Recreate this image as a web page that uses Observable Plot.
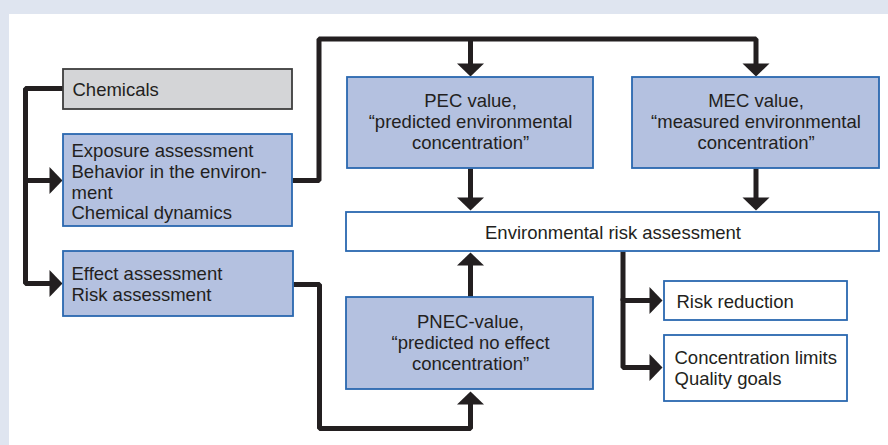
<!DOCTYPE html>
<html>
<head>
<meta charset="utf-8">
<script src="https://cdn.jsdelivr.net/npm/d3@7"></script>
<script src="https://cdn.jsdelivr.net/npm/@observablehq/plot@0.6"></script>
<style>
  html, body { margin: 0; padding: 0; background: #dfe5f0; }
  svg { display: block; }
</style>
</head>
<body>
<script>
// ---- Data: the nodes of the flowchart ----
const nodeIds = ["chemicals", "exposure", "effect", "pec", "mec", "env", "pnec", "reduction", "limits"];
const nodeLabels = [
  "Chemicals",
  "Exposure assessment\nBehavior in the environ-\nment\nChemical dynamics",
  "Effect assessment\nRisk assessment",
  "PEC value,\n“predicted environmental\nconcentration”",
  "MEC value,\n“measured environmental\nconcentration”",
  "Environmental risk assessment",
  "PNEC-value,\n“predicted no effect\nconcentration”",
  "Risk reduction",
  "Concentration limits\nQuality goals"
];
const nodeKinds = ["input", "process", "process", "value", "value", "result", "value", "action", "action"];

// ---- Data: the links (from -> to) ----
const linkFrom = ["chemicals", "chemicals", "exposure", "exposure", "pec", "mec", "pnec", "effect", "env", "env"];
const linkTo   = ["exposure", "effect", "pec", "mec", "env", "env", "env", "pnec", "reduction", "limits"];

// ---- Layout (pixel space of the diagram) ----
const boxLayout = {
  chemicals: {x1: 63, x2: 292, y1: 69, y2: 109, tx: 72, ty: 89, anchor: "start"},
  exposure:  {x1: 63, x2: 292, y1: 134, y2: 226, tx: 71, ty: 181, anchor: "start"},
  effect:    {x1: 63, x2: 293, y1: 251, y2: 316, tx: 71, ty: 283, anchor: "start"},
  pec:       {x1: 347, x2: 593, y1: 77, y2: 168, tx: 470, ty: 121, anchor: "middle"},
  mec:       {x1: 632, x2: 879, y1: 77, y2: 168, tx: 755.5, ty: 121, anchor: "middle"},
  env:       {x1: 346, x2: 879, y1: 212, y2: 251, tx: 612.5, ty: 232, anchor: "middle"},
  pnec:      {x1: 346, x2: 593, y1: 297, y2: 389, tx: 470, ty: 342, anchor: "middle"},
  reduction: {x1: 664, x2: 847, y1: 281, y2: 320, tx: 676, ty: 301, anchor: "start"},
  limits:    {x1: 664, x2: 847, y1: 335, y2: 401, tx: 674, ty: 367, anchor: "start"}
};
// connector paths: [points], arrow tip and direction
const linkLayout = {
  "chemicals-exposure": {pts: [[63, 88], [25, 88], [25, 180], [50, 180]], tip: [62, 180], dir: 90},
  "chemicals-effect":   {pts: [[25, 178], [25, 283], [50, 283]], tip: [62, 283], dir: 90},
  "exposure-pec":       {pts: [[470, 38.5], [470, 64]], tip: [470, 76], dir: 180},
  "exposure-mec":       {pts: [[292, 180], [318.5, 180], [318.5, 38.5], [755.5, 38.5], [755.5, 64]], tip: [755.5, 76], dir: 180},
  "pec-env":            {pts: [[470, 168], [470, 198]], tip: [470, 210], dir: 180},
  "mec-env":            {pts: [[755.5, 168], [755.5, 198]], tip: [755.5, 210], dir: 180},
  "pnec-env":           {pts: [[470, 297], [470, 264]], tip: [470, 252], dir: 0},
  "effect-pnec":        {pts: [[293, 284], [319, 284], [319, 428], [470, 428], [470, 403]], tip: [470, 391], dir: 0},
  "env-reduction":      {pts: [[622.5, 251], [622.5, 300], [650, 300]], tip: [662, 300], dir: 90},
  "env-limits":         {pts: [[622.5, 298], [622.5, 367], [650, 367]], tip: [662, 367], dir: 90}
};
const kindStyle = {
  input:   {fill: "#d4d5d7", stroke: "#3d3d3d"},
  process: {fill: "#b4c1e0", stroke: "#2a68b0"},
  value:   {fill: "#b4c1e0", stroke: "#2a68b0"},
  result:  {fill: "#ffffff", stroke: "#2a68b0"},
  action:  {fill: "#ffffff", stroke: "#2a68b0"}
};

// ---- Build tables ----
const nodes = nodeIds.map((id, i) => ({id, label: nodeLabels[i], kind: nodeKinds[i], ...boxLayout[id]}));
const links = linkFrom.map((f, i) => ({id: f + "-" + linkTo[i], ...linkLayout[f + "-" + linkTo[i]]}));
const linkPoints = links.flatMap(l => l.pts.map(([x, y]) => ({id: l.id, x, y})));
const tips = links.map(l => ({id: l.id, x: l.tip[0], y: l.tip[1], dir: l.dir}));

// custom flat triangular arrowhead; tip at origin, pointing up before rotation
const arrowHead = {
  draw(ctx) {
    ctx.moveTo(0, 0);
    ctx.lineTo(13.5, 13);
    ctx.lineTo(-13.5, 13);
    ctx.closePath();
  }
};

const ink = "#231f20";
const fontFamily = "'Liberation Sans', Arial, Helvetica, sans-serif";

const chart = Plot.plot({
  width: 888,
  height: 445,
  margin: 0,
  x: {domain: [0, 888], range: [0, 888], axis: null},
  y: {domain: [0, 445], range: [0, 445], axis: null},
  style: {background: "#dfe5f0", fontFamily},
  marks: [
    // white panel
    Plot.rect([{x1: 9, x2: 888, y1: 14, y2: 445}], {x1: "x1", x2: "x2", y1: "y1", y2: "y2", fill: "white"}),
    // connectors
    Plot.line(linkPoints, {x: "x", y: "y", z: "id", stroke: ink, strokeWidth: 5, strokeLinejoin: "miter", strokeLinecap: "butt"}),
    // arrowheads
    Plot.dot(tips, {x: "x", y: "y", rotate: "dir", symbol: arrowHead, fill: ink, stroke: "none"}),
    // boxes
    Plot.rect(nodes, {
      x1: "x1", x2: "x2", y1: "y1", y2: "y2",
      fill: d => kindStyle[d.kind].fill,
      stroke: d => kindStyle[d.kind].stroke,
      strokeWidth: 1.8
    }),
    // labels
    Plot.text(nodes.filter(d => d.anchor === "start"), {
      x: "tx", y: "ty", text: "label", textAnchor: "start", lineAnchor: "middle",
      fontSize: 18.5, lineHeight: 1.12, fill: ink
    }),
    Plot.text(nodes.filter(d => d.anchor === "middle"), {
      x: "tx", y: "ty", text: "label", textAnchor: "middle", lineAnchor: "middle",
      fontSize: 18.5, lineHeight: 1.12, fill: ink
    })
  ]
});
document.body.appendChild(chart);
</script>
</body>
</html>
